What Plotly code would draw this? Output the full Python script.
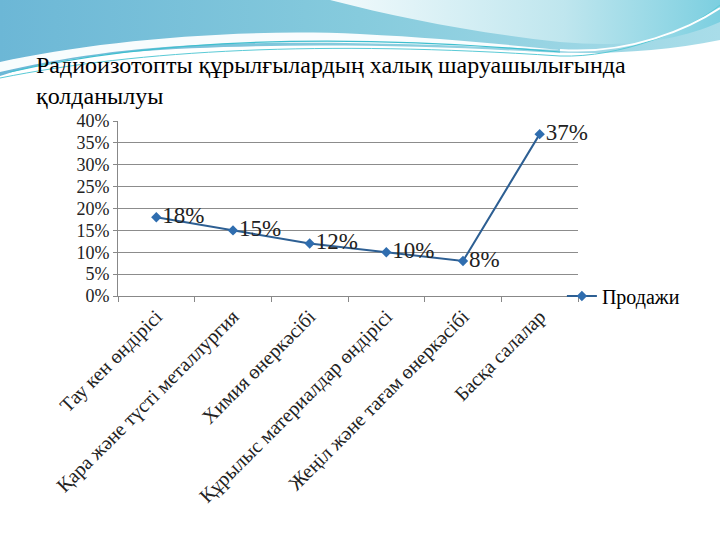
import plotly.graph_objects as go
import base64

categories = [
    "Тау кен өндірісі",
    "Қара және түсті металлургия",
    "Химия өнеркәсібі",
    "Құрылыс материалдар өндірісі",
    "Жеңіл және тағам өнеркәсібі",
    "Басқа салалар",
]
values = [0.18, 0.15, 0.12, 0.10, 0.08, 0.37]
labels = ["18%", "15%", "12%", "10%", "8%", "37%"]
series_name = "Продажи"
title_text = "Радиоизотопты құрылғылардың халық шаруашылығында<br>қолданылуы"
y_ticks = [0, 0.05, 0.10, 0.15, 0.20, 0.25, 0.30, 0.35, 0.40]

W, H = 720, 540
L, R, T, B = 118, 142, 121, 244
pw, ph = W - L - R, H - T - B

svg = f'''<svg xmlns="http://www.w3.org/2000/svg" width="{W}" height="{H}" viewBox="0 0 {W} {H}">
<defs>
<linearGradient id="g1" x1="0" y1="0" x2="1" y2="0">
<stop offset="0" stop-color="#6CB7D6"/><stop offset="0.5" stop-color="#86CBDD"/><stop offset="1" stop-color="#A9DDE9"/>
</linearGradient>
<linearGradient id="g2" x1="0" y1="0" x2="1" y2="0">
<stop offset="0" stop-color="#F2FAFC"/><stop offset="0.6" stop-color="#BFE6EE"/><stop offset="1" stop-color="#7CCFE0"/>
</linearGradient>
</defs>
<path d="M0,0 H720 V40 C660,52 600,55 540,52 C420,45 260,42 130,52 C70,58 30,66 0,76 Z" fill="url(#g1)"/>
<path d="M330,0 C400,18 470,32 560,42 C630,48 680,40 720,22 V0 Z" fill="url(#g2)"/>
<path d="M0,62 C90,42 230,28 360,34 C440,38 500,44 560,50 C470,46 340,40 220,44 C130,47 60,58 0,72 Z" fill="#FFFFFF" opacity="0.95"/>
<path d="M10,72 C150,40 330,32 560,52" fill="none" stroke="#3FBFCF" stroke-width="1.2"/>
<path d="M0,78 C140,50 320,40 560,56 C620,58 690,30 720,5" fill="none" stroke="#5ACAD6" stroke-width="1"/>
<path d="M560,50 C630,55 690,28 720,8" fill="none" stroke="#FFFFFF" stroke-width="2"/>
</svg>'''
src = "data:image/svg+xml;base64," + base64.b64encode(svg.encode()).decode()

fig = go.Figure()
fig.add_trace(go.Scatter(
    x=categories, y=values, name=series_name,
    mode="lines+markers+text",
    text=labels, textposition="middle right",
    textfont=dict(family="Liberation Serif", size=23, color="#222222"),
    line=dict(color="#2D5F93", width=2),
    marker=dict(symbol="diamond", size=8, color="#2F6DAF"),
    cliponaxis=False,
    showlegend=True,
))

fig.update_layout(
    width=W, height=H,
    margin=dict(l=L, r=R, t=T, b=B, autoexpand=False),
    paper_bgcolor="white", plot_bgcolor="white",
    title=dict(text=title_text, xref="container", yref="container",
               x=36 / W, xanchor="left", y=1 - 73 / H, yanchor="top",
               pad=dict(l=0, t=0),
               font=dict(family="Liberation Serif", size=24, color="#000000")),
    font=dict(family="Liberation Serif", color="#222222"),
    legend=dict(x=0.965, xanchor="left", y=0.0, yanchor="middle",
                font=dict(family="Liberation Serif", size=20, color="#000000"),
                bgcolor="rgba(0,0,0,0)", itemwidth=30),
    images=[dict(source=src, xref="paper", yref="paper",
                 x=-L / pw, y=1 + T / ph, sizex=W / pw, sizey=H / ph,
                 xanchor="left", yanchor="top", sizing="stretch", layer="below")],
)
fig.update_xaxes(
    type="category", range=[-0.5, len(categories) - 0.5],
    tickangle=-45, tickson="boundaries",
    ticks="outside", ticklen=5, tickcolor="#888888",
    showline=True, linecolor="#888888", linewidth=1,
    showgrid=False, automargin=False,
    tickfont=dict(family="Liberation Serif", size=20, color="#222222"),
)
fig.update_yaxes(
    range=[0, 0.40], tickvals=y_ticks, tickformat=".0%",
    showgrid=True, gridcolor="#8C8C8C", gridwidth=1,
    showline=True, linecolor="#888888", linewidth=1,
    ticks="outside", ticklen=4, tickcolor="#888888",
    zeroline=False, automargin=False,
    tickfont=dict(family="Liberation Serif", size=18, color="#222222"),
)
fig.write_html("out.html", config={"displayModeBar": False},
               post_script="document.body.style.margin='0';")
